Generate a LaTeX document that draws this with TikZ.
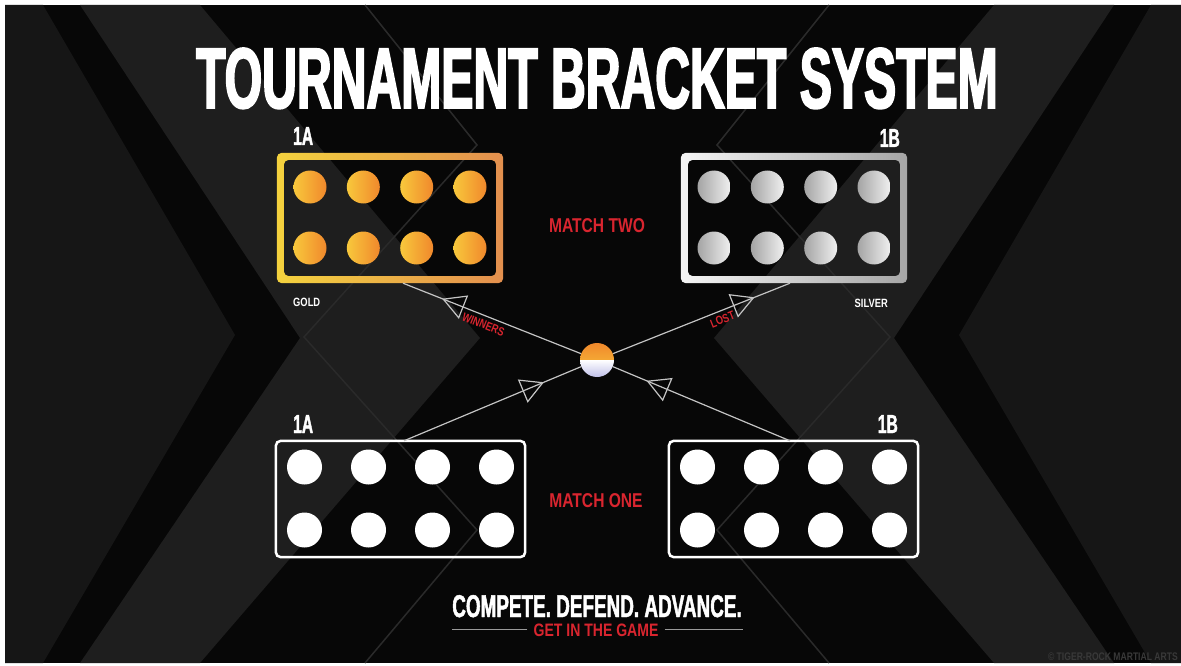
\documentclass[tikz,border=0pt]{standalone}
\usepackage{fontspec}
\setmainfont{Liberation Sans}
\newfontfamily\headfont[FakeStretch=0.56,FakeBold=2]{Liberation Sans}
\newfontfamily\condfont[FakeStretch=0.6,FakeBold=1.5]{Liberation Sans}
\newfontfamily\narrowfont[FakeStretch=0.78]{Liberation Sans}
\usepackage{tikz}
\usetikzlibrary{
  arrows.meta,
  positioning,
  calc,
  decorations.markings
}
\definecolor{bgblack}{HTML}{070707}
\definecolor{bgdark}{HTML}{161616}
\definecolor{bgband}{HTML}{1E1E1E}
\definecolor{bgline}{HTML}{2A2A2A}
\definecolor{goldA}{HTML}{F4D23E}
\definecolor{goldB}{HTML}{E38F4E}
\definecolor{dotA}{HTML}{F8C83C}
\definecolor{dotB}{HTML}{F0882C}
\definecolor{silverA}{HTML}{F0F0F0}
\definecolor{silverB}{HTML}{A4A4A4}
\definecolor{tagred}{HTML}{D9252F}
\definecolor{linkgray}{HTML}{C4C4C4}
\tikzset{
  slot/.style     = {inner sep=0pt, minimum width=226pt, minimum height=130pt},
  wideslot/.style = {inner sep=0pt, minimum width=249pt, minimum height=116pt},
  ring/.style     = {even odd rule, rounded corners=5pt},
  golddot/.style  = {circle, inner sep=0pt, minimum size=33pt,
                     left color=dotA, right color=dotB},
  silverdot/.style= {circle, inner sep=0pt, minimum size=33pt,
                     left color=silverB, right color=silverA},
  whitedot/.style = {circle, inner sep=0pt, minimum size=35pt, fill=white},
  headline/.style = {inner sep=0pt, text=white,
                     font=\headfont\bfseries\fontsize{86}{86}\selectfont},
  seed/.style     = {inner sep=0pt, text=white,
                     font=\condfont\bfseries\fontsize{26}{26}\selectfont},
  medal/.style    = {inner sep=0pt, text=white,
                     font=\narrowfont\bfseries\fontsize{12}{12}\selectfont},
  match/.style    = {inner sep=0pt, text=tagred,
                     font=\narrowfont\bfseries\fontsize{20}{20}\selectfont},
  tag/.style      = {inner sep=0pt, text=tagred,
                     font=\narrowfont\bfseries\fontsize{12}{12}\selectfont},
  link/.style     = {draw=linkgray, line width=1.2pt},
  towards/.style  = {postaction={decorate}, decoration={markings,
                     mark=at position #1 with
                     {\arrow{Triangle[open, length=23pt, width=25pt]}}}},
  backwards/.style= {postaction={decorate}, decoration={markings,
                     mark=at position #1 with
                     {\arrowreversed{Triangle[open, length=23pt, width=25pt]}}}},
  hub/.style      = {circle, inner sep=0pt, minimum size=34pt,
                     path picture={
                       \shade[top color=dotB, bottom color=dotA]
                         (path picture bounding box.north west) rectangle
                         (path picture bounding box.east);
                       \shade[top color=white, bottom color=silverB!60!blue!40!white]
                         (path picture bounding box.west) rectangle
                         (path picture bounding box.south east);
                     }},
}
\begin{document}
\begin{tikzpicture}[x=1pt, y=-1pt]
    \useasboundingbox (0,0) rectangle (1181,666);

    % Backdrop with the big X
    \fill[white] (0,0) rectangle (1181,666);
    \fill[bgblack] (5,5) rectangle (1181,663);
    \fill[bgdark] (5,5) -- (43,5) -- (235,335) -- (43,663) -- (5,663) -- cycle;
    \fill[bgdark] (1181,5) -- (1151,5) -- (959,335) -- (1151,663) -- (1181,663) -- cycle;
    \fill[bgband] (80,5) -- (200,5) -- (480,338) -- (200,663) -- (80,663) -- (300,338) -- cycle;
    \fill[bgband] (1114,5) -- (994,5) -- (714,338) -- (994,663) -- (1114,663) -- (894,338) -- cycle;
    \draw[bgline, line width=1.5pt] (365,5) -- (477,145) -- (304,337) -- (477,530) -- (365,663);
    \draw[bgline, line width=1.5pt] (829,5) -- (717,145) -- (890,337) -- (717,530) -- (829,663);

    % Title
    \node[headline, anchor=base] (title) at (597,108) {TOURNAMENT BRACKET SYSTEM};

    % Match two (top boxes)
    \node[slot] (m2a) at (390,218) {};
    \node[slot] (m2b) at (794,218) {};
    \shade[ring, left color=goldA, right color=goldB]
        (m2a.south west) rectangle (m2a.north east)
        ([shift={(7pt,7pt)}]m2a.south west) rectangle ([shift={(-7pt,-7pt)}]m2a.north east);
    \shade[ring, left color=white!92!gray, right color=gray!70!white]
        (m2b.south west) rectangle (m2b.north east)
        ([shift={(7pt,7pt)}]m2b.south west) rectangle ([shift={(-7pt,-7pt)}]m2b.north east);
    \foreach \c [count=\i] in {-80,-26.7,26.7,80} {
        \foreach \r [count=\j] in {-31,30} {
            \node[golddot] (ga\j\i) at ($(m2a)+(\c,\r)$) {};
            \node[silverdot] (sb\j\i) at ($(m2b)+(\c,\r)$) {};
        }
    }
    \node[seed, anchor=base west] (seedTA) at (293,145) {1A};
    \node[seed, anchor=base east] (seedTB) at (900,147) {1B};
    \node[medal, anchor=base west] (gold) at (293,306) {GOLD};
    \node[medal, anchor=base east] (silver) at (888,307) {SILVER};
    \node[match, anchor=base] (matchTwo) at (597,232) {MATCH TWO};

    % Match one (bottom boxes)
    \node[wideslot] (m1a) at (400.5,499) {};
    \node[wideslot] (m1b) at (793.5,499) {};
    \draw[white, line width=2.5pt, rounded corners=5pt] (m1a.south west) rectangle (m1a.north east);
    \draw[white, line width=2.5pt, rounded corners=5pt] (m1b.south west) rectangle (m1b.north east);
    \foreach \c [count=\i] in {-96,-32,32,96} {
        \foreach \r [count=\j] in {-32,31} {
            \node[whitedot] (wa\j\i) at ($(m1a)+(\c,\r)$) {};
            \node[whitedot] (wb\j\i) at ($(m1b)+(\c,\r)$) {};
        }
    }
    \node[seed, anchor=base west] (seedBA) at (293,433) {1A};
    \node[seed, anchor=base east] (seedBB) at (898,433) {1B};
    \node[match, anchor=base] (matchOne) at (596,507) {MATCH ONE};

    % Crossing links through the hub
    \node[hub] (hub) at (597,360) {};
    \coordinate (goldIn)   at ($(m2a.south)+(13,0)$);
    \coordinate (silverIn) at ($(m2b.south)+(-4,0)$);
    \coordinate (leftOut)  at ($(m1a.north)+(3.5,0)$);
    \coordinate (rightOut) at ($(m1b.north)+(-3.5,0)$);
    \draw[link, backwards=0.22] (goldIn) -- node[tag, sloped, below=4pt, pos=0.47] (winTag) {WINNERS} (hub);
    \draw[link, towards=0.80] (hub) -- node[tag, sloped, below=4pt, pos=0.6] (lostTag) {LOST} (silverIn);
    \draw[link, towards=0.79] (leftOut) -- (hub);
    \draw[link, towards=0.81] (rightOut) -- (hub);
    \draw[white, line width=0.8pt] (hub.west) -- (hub.east);

    % Footer
    \node[inner sep=0pt, text=white, anchor=base,
          font=\condfont\bfseries\fontsize{31.5}{31.5}\selectfont]
        (motto) at (597,617) {COMPETE. DEFEND. ADVANCE.};
    \node[inner sep=0pt, text=tagred, anchor=base,
          font=\narrowfont\bfseries\fontsize{18}{18}\selectfont]
        (tagline) at (596,636) {GET IN THE GAME};
    \coordinate (ruleL) at (452,0 |- tagline.west);
    \coordinate (ruleR) at (743,0 |- tagline.east);
    \draw[gray!80, line width=1pt] ([xshift=-6pt]tagline.west) -- (ruleL);
    \draw[gray!80, line width=1pt] ([xshift=6pt]tagline.east) -- (ruleR);
    \node[inner sep=0pt, text=gray!45!black, anchor=base east,
          font=\narrowfont\bfseries\fontsize{11}{11}\selectfont]
        (credit) at (1178,660) {© TIGER-ROCK MARTIAL ARTS};

\end{tikzpicture}
\end{document}
